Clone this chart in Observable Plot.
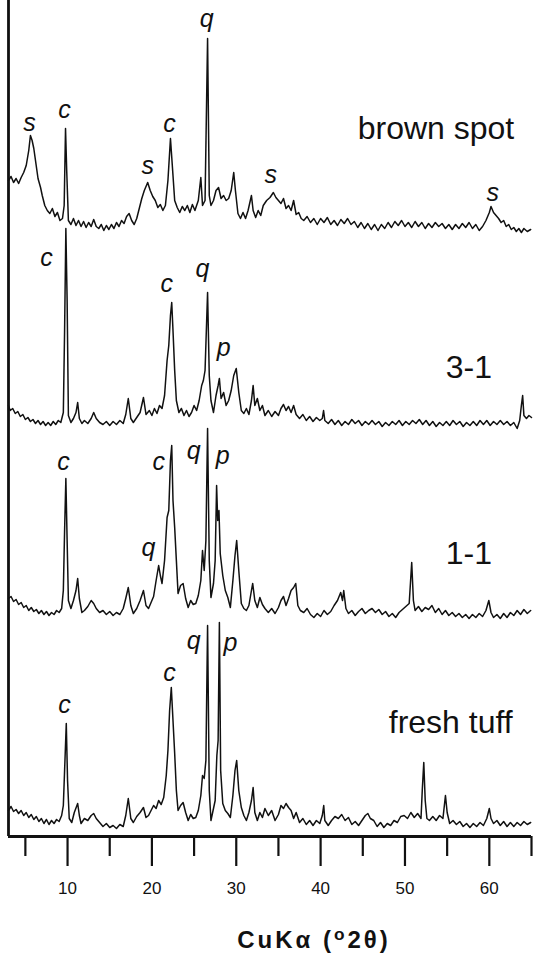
<!DOCTYPE html>
<html>
<head>
<meta charset="utf-8">
<script src="https://cdn.jsdelivr.net/npm/d3@7"></script>
<script src="https://cdn.jsdelivr.net/npm/@observablehq/plot@0.6"></script>
<style>
  html, body { margin: 0; padding: 0; background: #fff; }
  #wrap { position: relative; width: 539px; height: 955px; font-family: "Liberation Sans", Arial, sans-serif; }
  #xtitle { position: absolute; left: 0; top: 924px; width: 539px; padding-left: 89px; box-sizing: border-box; text-align: center;
            font: bold 24px "Liberation Sans", Arial, sans-serif; letter-spacing: 3px; color: #111; }
  #xtitle sup { font-size: 0.72em; vertical-align: 0.45em; }
</style>
</head>
<body>
<div id="wrap">
  <div id="chart"></div>
  <div id="xtitle">CuKα (<sup>o</sup>2θ)</div>
</div>
<script>
// 2θ (degrees) and stacked intensity (a.u.) for each sample
const brownSpot = [[3.0,656],[3.3,660],[3.6,654],[3.9,658],[4.2,653],[4.5,659],[4.8,664],[5.1,671],[5.4,686],[5.6,701],[5.8,696],[6.0,688],[6.2,676],[6.5,658],[6.8,649],[7.0,641],[7.3,631],[7.6,626],[7.9,623],[8.2,628],[8.5,620],[8.8,624],[9.1,616],[9.4,618],[9.6,631],[9.76,708],[9.9,666],[10.1,616],[10.4,612],[10.7,618],[11.0,611],[11.3,616],[11.6,610],[11.9,615],[12.2,609],[12.5,614],[12.8,610],[13.1,617],[13.4,610],[13.7,608],[14.0,612],[14.3,606],[14.6,611],[14.9,607],[15.2,612],[15.5,608],[15.8,614],[16.1,610],[16.4,616],[16.7,613],[17.0,620],[17.3,623],[17.6,616],[17.9,612],[18.2,618],[18.5,628],[18.8,638],[19.1,646],[19.5,654],[19.8,646],[20.1,640],[20.4,636],[20.7,629],[21.0,632],[21.3,626],[21.6,631],[21.9,656],[22.2,698],[22.5,661],[22.7,636],[23.0,629],[23.3,624],[23.6,630],[23.9,626],[24.2,631],[24.5,624],[24.8,632],[25.1,626],[25.5,636],[25.8,659],[26.0,631],[26.3,636],[26.6,798],[26.8,641],[27.0,631],[27.3,636],[27.6,646],[27.9,649],[28.2,638],[28.5,641],[28.8,636],[29.1,638],[29.4,646],[29.7,664],[29.9,646],[30.2,623],[30.5,618],[30.8,624],[31.1,618],[31.4,626],[31.8,641],[32.0,626],[32.3,619],[32.6,626],[32.9,621],[33.2,631],[33.6,636],[34.0,639],[34.4,644],[34.7,639],[35.0,636],[35.3,633],[35.6,638],[35.9,628],[36.2,631],[36.5,626],[36.8,636],[37.1,622],[37.4,624],[37.7,618],[38.0,616],[38.4,620],[38.8,614],[39.2,618],[39.6,612],[40.0,618],[40.4,614],[40.8,619],[41.2,612],[41.6,616],[42.0,611],[42.4,617],[42.8,613],[43.2,618],[43.6,612],[44.0,615],[44.4,609],[44.8,614],[45.2,608],[45.6,613],[46.0,607],[46.4,612],[46.8,606],[47.2,612],[47.6,608],[48.0,614],[48.4,609],[48.8,615],[49.2,611],[49.6,616],[50.0,610],[50.4,614],[50.8,609],[51.2,615],[51.6,610],[52.0,614],[52.4,608],[52.8,613],[53.2,609],[53.6,614],[54.0,610],[54.4,613],[54.8,608],[55.2,612],[55.6,607],[56.0,612],[56.4,608],[56.8,613],[57.2,609],[57.6,614],[58.0,608],[58.4,612],[58.8,606],[59.2,610],[59.6,616],[60.0,624],[60.2,630],[60.5,624],[60.8,621],[61.1,618],[61.4,614],[61.7,616],[62.0,610],[62.3,612],[62.6,607],[62.9,609],[63.2,605],[63.5,608],[63.8,604],[64.1,608],[64.5,605],[64.9,607]];

const sample31 = [[3.0,431],[3.2,426],[3.5,428],[3.8,423],[4.1,425],[4.4,420],[4.7,422],[5.0,417],[5.3,419],[5.6,415],[5.9,417],[6.2,413],[6.5,416],[6.8,412],[7.1,415],[7.4,411],[7.7,414],[8.0,411],[8.3,415],[8.6,412],[8.9,416],[9.2,414],[9.5,424],[9.65,506],[9.8,608],[9.95,536],[10.1,421],[10.4,414],[10.7,418],[11.0,424],[11.2,434],[11.4,418],[11.7,413],[12.0,416],[12.4,413],[12.8,418],[13.1,424],[13.4,418],[13.8,414],[14.2,412],[14.6,415],[15.0,411],[15.4,415],[15.8,412],[16.2,416],[16.6,413],[16.9,422],[17.2,438],[17.5,418],[17.8,414],[18.2,419],[18.6,424],[19.0,439],[19.3,422],[19.7,426],[20.0,421],[20.3,428],[20.6,423],[20.9,431],[21.2,428],[21.5,441],[21.8,476],[22.0,491],[22.2,521],[22.35,534],[22.5,506],[22.7,466],[22.9,436],[23.2,424],[23.5,428],[23.8,421],[24.1,426],[24.4,420],[24.7,424],[25.0,431],[25.3,426],[25.6,436],[25.9,451],[26.1,456],[26.3,466],[26.6,544],[26.8,461],[27.0,436],[27.3,424],[27.6,441],[27.85,451],[28.0,458],[28.2,438],[28.5,444],[28.8,431],[29.1,436],[29.4,446],[29.7,461],[30.0,468],[30.3,444],[30.6,426],[30.9,423],[31.2,428],[31.5,422],[31.8,436],[32.0,451],[32.2,431],[32.5,438],[32.8,426],[33.1,431],[33.4,421],[33.8,426],[34.2,420],[34.6,425],[35.0,421],[35.3,428],[35.6,432],[35.9,426],[36.2,430],[36.5,424],[36.8,431],[37.1,422],[37.5,418],[37.9,422],[38.3,416],[38.7,420],[39.1,415],[39.5,419],[39.9,416],[40.2,418],[40.35,426],[40.5,416],[40.9,413],[41.3,417],[41.7,412],[42.1,416],[42.5,411],[42.9,415],[43.3,412],[43.7,417],[44.1,413],[44.5,416],[44.9,411],[45.3,415],[45.7,412],[46.1,416],[46.5,412],[46.9,415],[47.3,410],[47.7,414],[48.1,411],[48.5,415],[48.9,412],[49.3,416],[49.7,411],[50.1,415],[50.5,412],[50.9,416],[51.3,413],[51.7,417],[52.1,412],[52.5,416],[52.9,411],[53.3,415],[53.7,410],[54.1,414],[54.5,411],[54.9,415],[55.3,411],[55.7,416],[56.1,412],[56.5,415],[56.9,410],[57.3,414],[57.7,411],[58.1,415],[58.5,411],[58.9,416],[59.3,412],[59.7,416],[60.1,411],[60.5,415],[60.9,412],[61.3,416],[61.7,412],[62.1,415],[62.5,411],[62.9,414],[63.3,408],[63.6,416],[63.8,431],[63.95,441],[64.1,421],[64.4,418],[64.7,421],[65.0,419]];

const sample11 = [[3.0,238],[3.3,240],[3.6,235],[3.9,237],[4.2,232],[4.5,234],[4.8,229],[5.1,231],[5.4,226],[5.7,229],[6.0,225],[6.3,227],[6.6,223],[6.9,226],[7.2,222],[7.5,225],[7.8,221],[8.1,224],[8.4,222],[8.7,226],[9.0,224],[9.3,228],[9.5,246],[9.65,306],[9.8,358],[9.95,296],[10.1,236],[10.4,228],[10.7,236],[11.0,246],[11.2,258],[11.4,238],[11.7,224],[12.0,226],[12.4,230],[12.8,236],[13.1,233],[13.4,228],[13.8,224],[14.2,226],[14.6,222],[15.0,225],[15.4,221],[15.8,224],[16.2,222],[16.6,228],[16.9,238],[17.2,249],[17.5,231],[17.8,223],[18.2,228],[18.6,236],[19.0,246],[19.3,231],[19.6,228],[19.9,234],[20.2,240],[20.5,256],[20.8,271],[21.0,261],[21.2,253],[21.5,276],[21.8,319],[22.0,326],[22.2,376],[22.35,391],[22.5,336],[22.7,309],[22.9,276],[23.1,243],[23.4,251],[23.7,253],[24.0,238],[24.3,229],[24.6,236],[24.9,232],[25.2,233],[25.5,241],[25.8,256],[26.0,286],[26.2,266],[26.4,296],[26.6,408],[26.8,276],[27.0,239],[27.3,253],[27.5,276],[27.67,351],[27.8,316],[27.95,326],[28.1,283],[28.4,261],[28.7,246],[29.0,239],[29.3,229],[29.6,256],[29.85,281],[30.05,296],[30.3,266],[30.6,233],[30.9,228],[31.2,226],[31.5,231],[31.8,246],[31.95,253],[32.2,236],[32.5,229],[32.8,239],[33.1,232],[33.4,228],[33.8,224],[34.2,228],[34.6,223],[35.0,229],[35.3,236],[35.6,240],[35.9,231],[36.2,238],[36.5,246],[36.8,249],[37.05,253],[37.3,231],[37.6,226],[38.0,224],[38.4,228],[38.8,222],[39.2,219],[39.6,223],[40.0,220],[40.4,226],[40.8,222],[41.2,225],[41.6,231],[42.0,236],[42.38,244],[42.6,236],[42.74,246],[43.0,228],[43.3,223],[43.7,226],[44.1,221],[44.5,225],[44.9,228],[45.3,223],[45.7,226],[46.1,228],[46.5,224],[46.9,227],[47.3,222],[47.7,225],[48.1,220],[48.5,223],[48.9,219],[49.3,224],[49.7,227],[50.1,230],[50.5,233],[50.8,274],[51.0,236],[51.2,226],[51.6,230],[52.0,225],[52.4,229],[52.8,227],[53.2,231],[53.6,224],[54.0,228],[54.4,222],[54.8,226],[55.2,221],[55.6,224],[56.0,220],[56.4,223],[56.8,219],[57.2,222],[57.6,218],[58.0,222],[58.4,219],[58.8,223],[59.2,220],[59.6,226],[59.94,236],[60.2,224],[60.5,219],[60.9,222],[61.3,218],[61.7,223],[62.1,219],[62.5,224],[62.9,221],[63.3,226],[63.7,222],[64.1,227],[64.5,223],[64.9,226]];

const freshTuff = [[3.0,26],[3.3,30],[3.6,25],[3.9,27],[4.2,23],[4.5,26],[4.8,21],[5.1,24],[5.4,19],[5.7,22],[6.0,17],[6.3,20],[6.6,15],[6.9,18],[7.2,13],[7.5,17],[7.8,12],[8.1,16],[8.4,13],[8.7,17],[9.0,15],[9.3,21],[9.5,31],[9.65,66],[9.85,113],[10.0,56],[10.2,18],[10.5,14],[10.8,24],[11.2,33],[11.4,21],[11.6,13],[12.0,18],[12.4,16],[12.8,21],[13.1,23],[13.4,18],[13.8,14],[14.2,10],[14.6,13],[15.0,9],[15.4,11],[15.8,8],[16.2,12],[16.6,10],[16.9,21],[17.2,38],[17.5,18],[17.8,14],[18.2,20],[18.6,24],[19.0,29],[19.3,19],[19.6,21],[19.9,26],[20.2,31],[20.5,28],[20.8,36],[21.1,32],[21.4,39],[21.7,61],[21.9,86],[22.1,126],[22.3,149],[22.5,116],[22.7,83],[22.9,46],[23.1,26],[23.4,31],[23.7,34],[24.0,24],[24.3,16],[24.6,22],[24.9,18],[25.2,19],[25.5,26],[25.8,41],[26.0,61],[26.2,58],[26.4,76],[26.6,211],[26.8,46],[27.0,16],[27.3,28],[27.5,36],[27.7,81],[27.85,96],[28.0,214],[28.15,66],[28.4,33],[28.7,26],[29.0,23],[29.3,19],[29.6,41],[29.85,66],[30.05,76],[30.3,46],[30.6,29],[30.9,21],[31.2,16],[31.5,24],[31.8,36],[32.0,49],[32.2,24],[32.5,16],[32.8,24],[33.1,19],[33.4,28],[33.8,21],[34.2,26],[34.6,16],[35.0,22],[35.3,31],[35.6,28],[35.9,33],[36.2,29],[36.5,26],[36.8,18],[37.1,24],[37.5,14],[37.9,18],[38.3,12],[38.7,16],[39.1,11],[39.5,16],[39.9,13],[40.2,21],[40.37,31],[40.5,16],[40.9,11],[41.3,16],[41.7,20],[42.1,18],[42.5,22],[42.9,16],[43.3,19],[43.7,12],[44.1,15],[44.5,11],[44.9,16],[45.3,21],[45.6,23],[45.9,18],[46.3,16],[46.7,10],[47.1,14],[47.5,9],[47.9,13],[48.3,11],[48.7,16],[49.1,14],[49.5,20],[49.9,21],[50.3,18],[50.7,24],[51.1,19],[51.5,23],[51.9,18],[52.05,46],[52.23,74],[52.4,36],[52.6,18],[52.9,16],[53.3,20],[53.7,16],[54.1,21],[54.5,18],[54.8,41],[55.0,24],[55.3,13],[55.7,16],[56.1,12],[56.5,15],[56.9,10],[57.3,13],[57.7,9],[58.1,13],[58.5,10],[58.9,14],[59.3,11],[59.7,18],[60.0,28],[60.2,18],[60.5,13],[60.9,16],[61.3,11],[61.7,15],[62.1,10],[62.5,14],[62.9,10],[63.3,14],[63.7,11],[64.1,15],[64.5,12],[64.9,14]];

// sample names and where they are written (2θ, intensity)
const sampleNames = ["brown spot", "3-1", "1-1", "fresh tuff"];
const sampleNameTheta = [44.4, 54.84, 54.84, 48.08];
const sampleNameI = [698, 459, 273, 104];

// mineral peak labels: s smectite, c clinoptilolite, q quartz, p plagioclase
const peakLetters = ["s","c","s","c","q","s","s", "c","c","q","p", "c","q","c","q","p", "c","c","q","p"];
const peakTheta   = [5.5,9.64,19.5,22.1,26.5,34.1,60.4, 7.5,21.75,26.0,28.5, 9.52,19.6,20.8,24.95,28.4, 9.64,22.1,24.95,29.3];
const peakI       = [706,719,663,705,810,654,636, 571,545,560,481, 367,281,367,378,373, 124,156,188,186];

const majorTicks = [10, 20, 30, 40, 50, 60];
const minorTicks = [5, 15, 25, 35, 45, 55, 65];
const xDomain = [3, 65];
const yDomain = [0, 836];

const traces = [brownSpot, sample31, sample11, freshTuff];
const labels = peakLetters.map((t, i) => ({t, x: peakTheta[i], y: peakI[i]}));
const names = sampleNames.map((t, i) => ({t, x: sampleNameTheta[i], y: sampleNameI[i]}));

const chart = Plot.plot({
  width: 539,
  height: 905,
  marginLeft: 8,
  marginRight: 8,
  marginTop: 0,
  marginBottom: 69,
  style: {background: "#fff", color: "#111", fontFamily: "'Liberation Sans', Arial, sans-serif"},
  x: {domain: xDomain, label: null},
  y: {domain: yDomain, axis: null},
  marks: [
    ...traces.map(d => Plot.line(d, {x: d => d[0], y: d => d[1], stroke: "#111", strokeWidth: 1.5, strokeLinejoin: "round"})),
    Plot.text(labels, {x: "x", y: "y", text: "t", fontSize: 25, fontStyle: "italic", fill: "#111", dy: -8}),
    Plot.text(names, {x: "x", y: "y", text: "t", fontSize: 32, textAnchor: "start", fill: "#111", dy: -10, style: "letter-spacing:1.5px"}),
    Plot.axisX({ticks: minorTicks, tickSize: 20, tickFormat: () => "", label: null, strokeWidth: 2.2}),
    Plot.axisX({ticks: majorTicks, tickSize: 30, tickPadding: 15, fontSize: 17, label: null, strokeWidth: 2.2}),
    Plot.ruleX([xDomain[0]], {stroke: "#111", strokeWidth: 2.8}),
    Plot.ruleY([yDomain[0]], {stroke: "#111", strokeWidth: 2.8})
  ]
});
document.getElementById("chart").appendChild(chart);
</script>
</body>
</html>
